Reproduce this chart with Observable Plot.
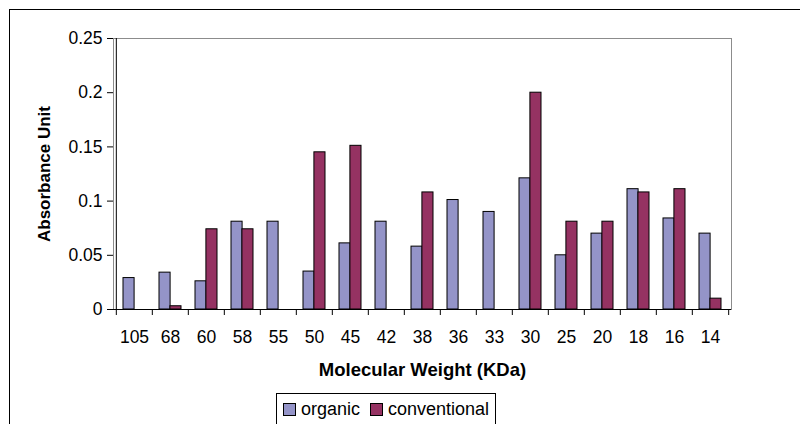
<!DOCTYPE html>
<html>
<head>
<meta charset="utf-8">
<script src="https://cdn.jsdelivr.net/npm/d3@7"></script>
<script src="https://cdn.jsdelivr.net/npm/@observablehq/plot@0.6"></script>
<style>
  body { margin: 0; background: #fff; font-family: "Liberation Sans", Arial, sans-serif; }
  #wrap { position: relative; width: 800px; height: 424px; overflow: hidden; background: #fff; }
  #outer { position: absolute; left: 9px; top: 9px; width: 900px; height: 600px; border: 1px solid #000; }
  #chart { position: absolute; left: 0; top: 0; }
  #legend { position: absolute; left: 276px; top: 393px; width: 218px; height: 30px; border: 1px solid #000;
            display: flex; align-items: center; font-size: 18px; color: #000; background: #fff; box-sizing: content-box; }
  .sw { width: 11px; height: 11px; border: 1px solid #000; margin-left: 6px; margin-right: 5px; }
  .lab { line-height: 1; }
</style>
</head>
<body>
<div id="wrap">
  <div id="outer"></div>
  <div id="chart"></div>
  <div id="legend"></div>
</div>
<script>
const categories = ["105","68","60","58","55","50","45","42","38","36","33","30","25","20","18","16","14"];
const organic =      [0.029, 0.034, 0.026, 0.081, 0.081, 0.035, 0.061, 0.081, 0.058, 0.101, 0.090, 0.121, 0.050, 0.070, 0.111, 0.084, 0.070];
const conventional = [null,  0.003, 0.074, 0.074, null,  0.145, 0.151, null,  0.108, null,  null,  0.200, 0.081, 0.081, 0.108, 0.111, 0.010];
const seriesNames = ["organic", "conventional"];
const seriesColors = ["#9494c8", "#953262"];
const yTicks = [0, 0.05, 0.1, 0.15, 0.2, 0.25];
const yTickLabels = ["0", "0.05", "0.1", "0.15", "0.2", "0.25"];
const xTitle = "Molecular Weight (KDa)";
const yTitle = "Absorbance Unit";

const W = 800, H = 390, mL = 113, mR = 69, mT = 38, mB = 81;
const step = (W - mL - mR) / categories.length;
const bw = step * 0.6;
const font = '"Liberation Sans", Arial, sans-serif';

const rows = categories.map((c, i) => ({cat: c, organic: organic[i], conventional: conventional[i]}));

const plot = Plot.plot({
  width: W, height: H,
  marginLeft: mL, marginRight: mR, marginTop: mT, marginBottom: mB,
  style: {fontFamily: font, fontSize: "17px", color: "#000", background: "transparent", overflow: "visible"},
  x: {domain: categories, paddingInner: 0.4, paddingOuter: 0.2, axis: null},
  y: {domain: [0, 0.25], axis: null},
  marks: [
    Plot.frame({stroke: "#8c8c8c"}),
    Plot.barY(rows.filter(d => d.organic != null), {x: "cat", y: "organic", fill: seriesColors[0], stroke: "#000", strokeWidth: 1, insetRight: bw / 2}),
    Plot.barY(rows.filter(d => d.conventional != null), {x: "cat", y: "conventional", fill: seriesColors[1], stroke: "#000", strokeWidth: 1, insetLeft: bw / 2}),
    Plot.ruleY([0], {stroke: "#000"}),
    Plot.ruleX(categories.slice(0, 1), {dx: -step / 2, stroke: "#000"}),
    Plot.axisX({tickSize: 6, tickFormat: () => "", dx: -step / 2, stroke: "#000", label: null}),
    Plot.axisX({ticks: categories.slice(-1), tickSize: 6, tickFormat: () => "", dx: step / 2, stroke: "#000", label: null}),
    Plot.axisX({tickSize: 0, tickPadding: 21, fontSize: 17.5, label: null}),
    Plot.axisY({ticks: yTicks, tickFormat: d => yTickLabels[yTicks.indexOf(d)], tickSize: 6, tickPadding: 5, fontSize: 17.5, stroke: "#000", label: null}),
    Plot.text([yTitle], {text: d => d, frameAnchor: "left", textAnchor: "middle", rotate: -90, dx: -69, fontWeight: "bold", fontSize: 17}),
    Plot.text([xTitle], {text: d => d, frameAnchor: "bottom", textAnchor: "middle", dy: 66, fontWeight: "bold", fontSize: 18.5})
  ]
});
document.getElementById("chart").appendChild(plot);

const legend = document.getElementById("legend");
seriesNames.forEach((name, i) => {
  const sw = document.createElement("span");
  sw.className = "sw";
  sw.style.background = seriesColors[i];
  if (i > 0) sw.style.marginLeft = "10px";
  const lab = document.createElement("span");
  lab.className = "lab";
  lab.textContent = name;
  legend.appendChild(sw);
  legend.appendChild(lab);
});
</script>
</body>
</html>
